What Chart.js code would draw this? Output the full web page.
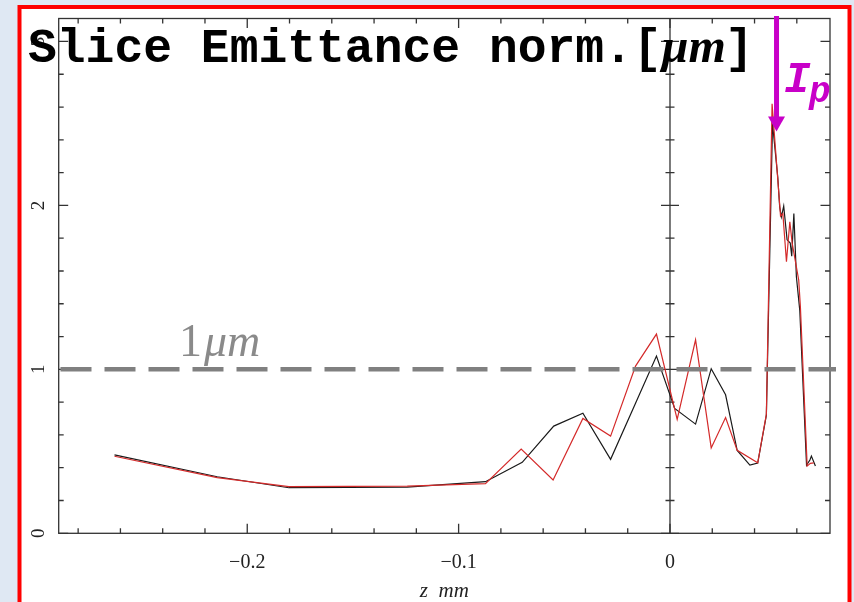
<!DOCTYPE html>
<html>
<head>
<meta charset="utf-8">
<script src="https://cdn.jsdelivr.net/npm/chart.js@4.4.1/dist/chart.umd.min.js"></script>
<style>
html,body{margin:0;padding:0;background:#dfe8f3;}
canvas{display:block;}
</style>
</head>
<body>
<canvas id="c" width="854" height="602"></canvas>
<script>
// ---- data ----
const zBlack = [-0.2628, -0.2142, -0.1803, -0.1243, -0.0873, -0.0699, -0.0550, -0.0412, -0.0281, -0.0163, -0.0064, 0.0022, 0.0121, 0.0195, 0.0263, 0.0318, 0.0378, 0.0415, 0.0456, 0.0485, 0.0510, 0.0519, 0.0527, 0.0538, 0.0554, 0.0569, 0.0576, 0.0586, 0.0598, 0.0614, 0.0646, 0.0662, 0.0669, 0.0688];
const eBlack = [0.478, 0.345, 0.278, 0.282, 0.315, 0.433, 0.654, 0.732, 0.451, 0.793, 1.081, 0.762, 0.666, 1.004, 0.845, 0.505, 0.416, 0.428, 0.72, 2.50, 2.17, 1.99, 1.93, 1.996, 1.79, 1.77, 1.69, 1.95, 1.565, 1.36, 0.416, 0.447, 0.471, 0.41];
const zRed = [-0.2628, -0.2142, -0.1803, -0.1243, -0.0873, -0.0704, -0.0553, -0.0412, -0.0281, -0.0163, -0.0064, 0.0034, 0.0121, 0.0195, 0.0263, 0.0318, 0.0415, 0.0456, 0.0483, 0.0523, 0.0534, 0.0551, 0.0567, 0.0578, 0.0609, 0.0617, 0.0649, 0.0664, 0.0680];
const eRed = [0.470, 0.340, 0.285, 0.288, 0.303, 0.514, 0.325, 0.701, 0.593, 1.02, 1.215, 0.695, 1.18, 0.521, 0.706, 0.506, 0.43, 0.727, 2.62, 1.935, 1.95, 1.656, 1.90, 1.77, 1.545, 1.38, 0.41, 0.427, 0.43];

const xTickValues = [-0.2, -0.1, 0];
const xTickLabels = ['\u22120.2', '\u22120.1', '0'];
const yTickValues = [0, 1, 2, 3];
const yTickLabels = ['0', '1', '2', '3'];

const xMin = -0.2892, xMax = 0.0757;
const yMin = 0, yMax = 3.14;
const refLevel = 1;            // dashed 1 um line
const arrowZ = 0.0504;         // I_p arrow position
const arrowTipE = 2.45;

const titleMain = 'Slice Emittance norm.[';
const titleUnit = '\u03BCm';
const titleEnd = ']';
const refLabelNum = '1';
const refLabelUnit = '\u03BCm';
const xTitle = 'z  mm';

const pts = (z, e) => z.map((v, i) => ({x: v, y: e[i]}));

const decor = {
  id: 'decor',
  beforeDraw(chart) {
    const c = chart.ctx;
    c.save();
    c.fillStyle = '#dfe8f3';
    c.fillRect(0, 0, chart.width, chart.height);
    c.fillStyle = '#ffffff';
    c.fillRect(19.5, 7, 830, 620);
    c.strokeStyle = '#ff0000';
    c.lineWidth = 4;
    c.strokeRect(19.5, 7, 830, 620);
    c.restore();
  },
  beforeDatasetsDraw(chart) {
    const c = chart.ctx, a = chart.chartArea;
    const xs = chart.scales.x, ys = chart.scales.y;
    c.save();
    c.strokeStyle = '#333';
    c.lineWidth = 1.3;
    c.strokeRect(a.left, a.top, a.right - a.left, a.bottom - a.top);
    const x0 = xs.getPixelForValue(0);
    c.beginPath(); c.moveTo(x0, a.top); c.lineTo(x0, a.bottom); c.stroke();
    c.beginPath();
    xs.ticks.forEach(t => {
      const px = xs.getPixelForValue(t.value);
      const major = Math.abs(Math.round(t.value * 100)) % 10 === 0;
      const L = major ? 9.5 : 5;
      c.moveTo(px, a.bottom); c.lineTo(px, a.bottom - L);
      c.moveTo(px, a.top); c.lineTo(px, a.top + L);
    });
    ys.ticks.forEach(t => {
      const py = ys.getPixelForValue(t.value);
      const major = Math.abs(Math.round(t.value * 10)) % 10 === 0;
      const L = major ? 9.5 : 5;
      c.moveTo(a.left, py); c.lineTo(a.left + L, py);
      c.moveTo(a.right, py); c.lineTo(a.right - L, py);
      c.moveTo(x0 - L + 0.5, py); c.lineTo(x0 + L - 0.5, py);
    });
    c.stroke();
    // rotated y tick labels
    c.fillStyle = '#222';
    c.font = '19px "Liberation Serif"';
    c.textAlign = 'center';
    c.textBaseline = 'middle';
    yTickValues.forEach((v, i) => {
      const py = ys.getPixelForValue(v);
      c.save();
      c.translate(39, py);
      c.rotate(-Math.PI / 2);
      c.fillText(yTickLabels[i], 0, 0);
      c.restore();
    });
    c.restore();
  },
  afterDatasetsDraw(chart) {
    const c = chart.ctx, a = chart.chartArea;
    const xs = chart.scales.x, ys = chart.scales.y;
    c.save();
    // dashed reference line
    const yr = ys.getPixelForValue(refLevel);
    c.strokeStyle = '#808080';
    c.lineWidth = 4.5;
    c.setLineDash([31, 13]);
    c.beginPath(); c.moveTo(a.left + 1.8, yr); c.lineTo(a.right + 6, yr); c.stroke();
    c.setLineDash([]);
    // 1 um label
    c.fillStyle = '#8a8a8a';
    c.textAlign = 'left';
    c.textBaseline = 'alphabetic';
    c.font = '46px "Liberation Serif"';
    c.fillText(refLabelNum, 179, yr - 13);
    const w1 = c.measureText(refLabelNum).width;
    c.font = 'italic 46px "Liberation Serif"';
    c.fillText(refLabelUnit, 179 + w1 + 2, yr - 13);
    // title
    c.fillStyle = '#000';
    c.font = 'bold 48px "Liberation Mono"';
    const tx = 28, ty = 62;
    c.fillText(titleMain, tx, ty);
    let x = tx + c.measureText(titleMain).width;
    c.font = 'bold italic 48px "Liberation Serif"';
    c.fillText(titleUnit, x, ty);
    x += c.measureText(titleUnit).width + 2;
    c.font = 'bold 48px "Liberation Mono"';
    c.fillText(titleEnd, x - 3, ty);
    // I_p arrow
    const ax = xs.getPixelForValue(arrowZ);
    const tipY = ys.getPixelForValue(arrowTipE);
    c.fillStyle = '#c800c8';
    c.fillRect(ax - 2.5, 16, 5, tipY - 16 - 14);
    c.beginPath();
    c.moveTo(ax - 8.5, tipY - 15);
    c.lineTo(ax + 8.5, tipY - 15);
    c.lineTo(ax, tipY);
    c.closePath();
    c.fill();
    c.font = 'bold italic 44px "Liberation Mono"';
    c.fillText('I', 784, 92);
    c.font = 'bold italic 36px "Liberation Mono"';
    c.fillText('p', 809, 102);
    c.restore();
  }
};

new Chart(document.getElementById('c'), {
  type: 'scatter',
  data: {
    datasets: [
      {label: 'red', data: pts(zRed, eRed), showLine: true, borderColor: '#d42a2a', borderWidth: 1.2, pointRadius: 0, tension: 0, fill: false},
      {label: 'black', data: pts(zBlack, eBlack), showLine: true, borderColor: '#1a1a1a', borderWidth: 1.2, pointRadius: 0, tension: 0, fill: false}
    ]
  },
  options: {
    responsive: false,
    animation: false,
    devicePixelRatio: 1,
    layout: {padding: {left: 0, right: 24, top: 18.5, bottom: 0}},
    plugins: {legend: {display: false}, tooltip: {enabled: false}, title: {display: false}},
    scales: {
      x: {
        type: 'linear', min: xMin, max: xMax,
        grid: {display: false}, border: {display: false},
        ticks: {
          stepSize: 0.02, includeBounds: false, autoSkip: false, maxRotation: 0, minRotation: 0,
          padding: 9, color: '#222', font: {family: 'Liberation Serif', size: 20},
          callback: (v) => {
            const i = xTickValues.findIndex(t => Math.abs(t - v) < 1e-6);
            return i >= 0 ? xTickLabels[i] : '';
          }
        },
        title: {display: true, text: xTitle, color: '#222', font: {family: 'Liberation Serif', size: 21, style: 'italic', lineHeight: 1.0}, padding: {top: 0, bottom: 0}},
        afterFit: (s) => { s.height = 68.7; }
      },
      y: {
        type: 'linear', min: yMin, max: yMax,
        grid: {display: false}, border: {display: false},
        ticks: {display: false, stepSize: 0.2, includeBounds: false},
        afterFit: (s) => { s.width = 58.7; }
      }
    }
  },
  plugins: [decor]
});
</script>
</body>
</html>
